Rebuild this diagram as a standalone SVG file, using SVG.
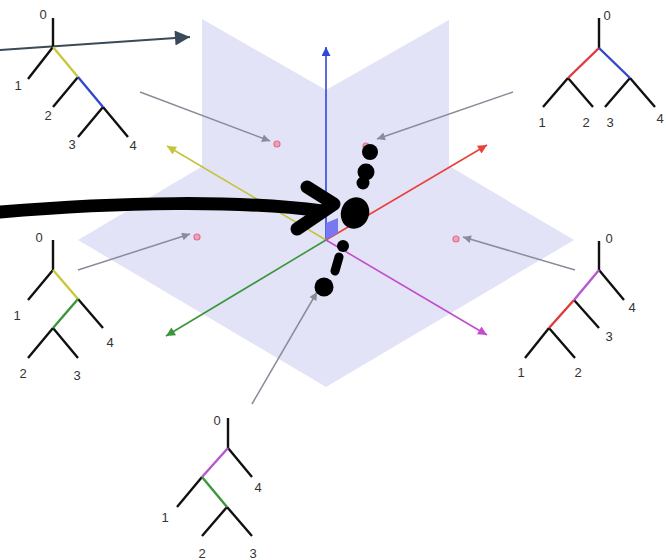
<svg xmlns="http://www.w3.org/2000/svg" width="666" height="560" viewBox="0 0 666 560">
  <style>
    .plane { fill: #e3e3f7; stroke: none; }
    .edge { fill: none; stroke-width: 2.4; stroke-linecap: butt; }
    .k { stroke: #111; }
    .yel { stroke: #c8c83a; }
    .blu { stroke: #3346cc; }
    .red { stroke: #e23a3a; }
    .grn { stroke: #3a963a; }
    .pur { stroke: #b656d0; }
    .lbl { font-family: "Liberation Sans", Arial, sans-serif; font-size: 13px; fill: #333; text-anchor: middle; }
    .ptr { fill: none; stroke: #8a8c9a; stroke-width: 1.5; }
    .dot { fill: #f2a0b8; stroke: #e07090; stroke-width: 1.2; }
    .ink { fill: #000; }
  </style>
  <defs>
    <marker id="hd-blue" viewBox="0 0 10 10" refX="10" refY="5" markerUnits="userSpaceOnUse" markerWidth="16" markerHeight="9" orient="auto"><path d="M0,0 L10,5 L0,10 z" fill="#2f48d8"/></marker>
    <marker id="hd-yellow" viewBox="0 0 10 10" refX="10" refY="5" markerUnits="userSpaceOnUse" markerWidth="14" markerHeight="9" orient="auto"><path d="M0,0 L10,5 L0,10 z" fill="#c4c43a"/></marker>
    <marker id="hd-red" viewBox="0 0 10 10" refX="10" refY="5" markerUnits="userSpaceOnUse" markerWidth="14" markerHeight="9" orient="auto"><path d="M0,0 L10,5 L0,10 z" fill="#e8433a"/></marker>
    <marker id="hd-green" viewBox="0 0 10 10" refX="10" refY="5" markerUnits="userSpaceOnUse" markerWidth="14" markerHeight="9" orient="auto"><path d="M0,0 L10,5 L0,10 z" fill="#3a963a"/></marker>
    <marker id="hd-magenta" viewBox="0 0 10 10" refX="10" refY="5" markerUnits="userSpaceOnUse" markerWidth="14" markerHeight="9" orient="auto"><path d="M0,0 L10,5 L0,10 z" fill="#c24ccc"/></marker>
    <marker id="hd-gray" viewBox="0 0 10 10" refX="10" refY="5" markerUnits="userSpaceOnUse" markerWidth="12" markerHeight="8" orient="auto"><path d="M0,0 L10,5 L0,10 z" fill="#8a8c9a"/></marker>
    <marker id="hd-slate" viewBox="0 0 10 10" refX="10" refY="5" markerUnits="userSpaceOnUse" markerWidth="18" markerHeight="15" orient="auto"><path d="M0,0 L10,5 L0,10 z" fill="#3a4a58"/></marker>
  </defs>

  <!-- coordinate planes -->
  <g id="planes">
    <polygon class="plane" points="78,240 326,93 574,240 326,387"/>
    <polygon class="plane" points="326,240 326,90 202,19 202,169"/>
    <polygon class="plane" points="326,240 326,90 449,20 449,170"/>
  </g>

  <!-- axes -->
  <g id="axes" fill="none" stroke-width="1.6">
    <path d="M326,240 L326,47" stroke="#2f48d8" marker-end="url(#hd-blue)"/>
    <path d="M326,240 L167,146" stroke="#c4c43a" marker-end="url(#hd-yellow)"/>
    <path d="M326,240 L487,145" stroke="#e8433a" marker-end="url(#hd-red)"/>
    <path d="M326,240 L166,336" stroke="#3a963a" marker-end="url(#hd-green)"/>
    <path d="M326,240 L487,335" stroke="#c24ccc" marker-end="url(#hd-magenta)"/>
    <polygon points="326,240 326,223 338,218 338,233" fill="#7878f0" stroke="none"/>
  </g>

  <!-- points in the planes -->
  <g id="points">
    <circle class="dot" cx="277" cy="144" r="3"/>
    <circle class="dot" cx="366" cy="146" r="3"/>
    <circle class="dot" cx="197" cy="237" r="3"/>
    <circle class="dot" cx="456" cy="239" r="3"/>
    <circle class="dot" cx="321" cy="289" r="3"/>
  </g>

  <!-- connectors -->
  <g id="connectors">
    <path class="ptr" d="M140,92 L270,141" marker-end="url(#hd-gray)"/>
    <path class="ptr" d="M513,92 L377,139" marker-end="url(#hd-gray)"/>
    <path class="ptr" d="M78,270 L190,234" marker-end="url(#hd-gray)"/>
    <path class="ptr" d="M575,270 L463,237" marker-end="url(#hd-gray)"/>
    <path class="ptr" d="M252,404 L317,292" marker-end="url(#hd-gray)"/>
    <path d="M0,50 L190,37" fill="none" stroke="#3a4a58" stroke-width="2.2" marker-end="url(#hd-slate)"/>
  </g>

  <!-- trees -->
  <g id="tree-top-left">
    <path class="edge k" d="M53,18 L53,47 M53,47 L28,79 M78,77 L53,107 M103,107 L78,137 M103,107 L128,137"/>
    <path class="edge yel" d="M53,47 L78,77"/>
    <path class="edge blu" d="M78,77 L103,107"/>
    <text class="lbl" x="43" y="19">0</text>
    <text class="lbl" x="18" y="90">1</text>
    <text class="lbl" x="48" y="120">2</text>
    <text class="lbl" x="72" y="149">3</text>
    <text class="lbl" x="133" y="150">4</text>
  </g>

  <g id="tree-top-right">
    <path class="edge k" d="M599,18 L599,48 M568,78 L543,107 M568,78 L593,107 M630,78 L605,107 M630,78 L655,107"/>
    <path class="edge red" d="M599,48 L568,78"/>
    <path class="edge blu" d="M599,48 L630,78"/>
    <text class="lbl" x="607" y="20">0</text>
    <text class="lbl" x="542" y="127">1</text>
    <text class="lbl" x="586" y="127">2</text>
    <text class="lbl" x="610" y="127">3</text>
    <text class="lbl" x="660" y="123">4</text>
  </g>

  <g id="tree-left">
    <path class="edge k" d="M53,240 L53,270 M53,270 L28,300 M78,299 L103,328 M53,328 L28,358 M53,328 L78,358"/>
    <path class="edge yel" d="M53,270 L78,299"/>
    <path class="edge grn" d="M78,299 L53,328"/>
    <text class="lbl" x="39" y="242">0</text>
    <text class="lbl" x="17" y="320">1</text>
    <text class="lbl" x="110" y="347">4</text>
    <text class="lbl" x="23" y="378">2</text>
    <text class="lbl" x="77" y="380">3</text>
  </g>

  <g id="tree-right">
    <path class="edge k" d="M599,241 L599,270 M599,270 L624,300 M574,300 L599,328 M549,328 L525,358 M549,328 L575,358"/>
    <path class="edge pur" d="M599,270 L574,300"/>
    <path class="edge red" d="M574,300 L549,328"/>
    <text class="lbl" x="609" y="243">0</text>
    <text class="lbl" x="632" y="312">4</text>
    <text class="lbl" x="609" y="341">3</text>
    <text class="lbl" x="521" y="377">1</text>
    <text class="lbl" x="578" y="377">2</text>
  </g>

  <g id="tree-bottom">
    <path class="edge k" d="M228,418 L228,448 M228,448 L252,477 M202,477 L177,507 M227,507 L202,536 M227,507 L252,536"/>
    <path class="edge pur" d="M228,448 L202,477"/>
    <path class="edge grn" d="M202,477 L227,507"/>
    <text class="lbl" x="217" y="425">0</text>
    <text class="lbl" x="258" y="492">4</text>
    <text class="lbl" x="165" y="522">1</text>
    <text class="lbl" x="202" y="558">2</text>
    <text class="lbl" x="253" y="558">3</text>
  </g>

  <!-- hand-drawn marker strokes over the origin -->
  <g id="ink">
    <path d="M0,212 C120,202 240,200 322,211" fill="none" stroke="#000" stroke-width="13" stroke-linecap="round"/>
    <path d="M307,187 L334,204 L297,229" fill="none" stroke="#000" stroke-width="13" stroke-linecap="round" stroke-linejoin="round"/>
    <circle class="ink" cx="370" cy="152" r="8"/>
    <circle class="ink" cx="366" cy="172" r="8.5"/>
    <circle class="ink" cx="363" cy="183" r="6.5"/>
    <ellipse class="ink" cx="355" cy="213" rx="14" ry="16" transform="rotate(20 355 213)"/>
    <circle class="ink" cx="343" cy="246" r="6"/>
    <path d="M339,257 L335,271" fill="none" stroke="#000" stroke-width="9" stroke-linecap="round"/>
    <circle class="ink" cx="324" cy="287" r="9.5"/>
  </g>
</svg>
